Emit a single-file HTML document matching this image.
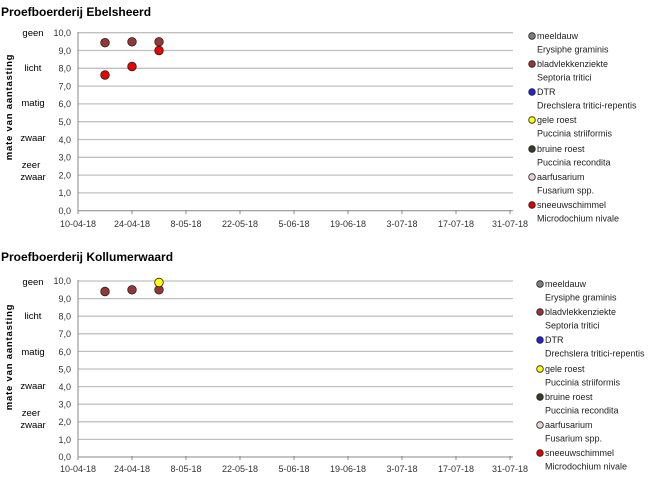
<!DOCTYPE html>
<html><head><meta charset="utf-8"><style>
body{margin:0;background:#fff}
svg{display:block;font-family:"Liberation Sans",Calibri,sans-serif}
.t{font-size:12px;font-weight:bold;fill:#000}
.ax{font-size:9px;fill:#333}
.cat{font-size:9.5px;fill:#000}
.lg{font-size:9px;fill:#222}
.g{stroke:#c0c0c0;stroke-width:1.3}
</style></head><body>
<svg width="650" height="477" viewBox="0 0 650 477">
<!-- Chart 1 -->
<text class="t" x="1" y="16">Proefboerderij Ebelsheerd</text>
<g class="g">
<line x1="78" x2="513" y1="32.7" y2="32.7"/><line x1="78" x2="513" y1="50.5" y2="50.5"/><line x1="78" x2="513" y1="68.3" y2="68.3"/><line x1="78" x2="513" y1="86.1" y2="86.1"/><line x1="78" x2="513" y1="103.9" y2="103.9"/><line x1="78" x2="513" y1="121.7" y2="121.7"/><line x1="78" x2="513" y1="139.5" y2="139.5"/><line x1="78" x2="513" y1="157.3" y2="157.3"/><line x1="78" x2="513" y1="175.1" y2="175.1"/><line x1="78" x2="513" y1="192.9" y2="192.9"/>
</g>
<line x1="78" y1="32" x2="78" y2="211" stroke="#888"/>
<line x1="78" y1="210.7" x2="513" y2="210.7" stroke="#888"/>
<g stroke="#888"><line x1="78" x2="78" y1="210" y2="214"/><line x1="132" x2="132" y1="210" y2="214"/><line x1="186" x2="186" y1="210" y2="214"/><line x1="240" x2="240" y1="210" y2="214"/><line x1="294" x2="294" y1="210" y2="214"/><line x1="348" x2="348" y1="210" y2="214"/><line x1="402" x2="402" y1="210" y2="214"/><line x1="456" x2="456" y1="210" y2="214"/><line x1="510" x2="510" y1="210" y2="214"/></g>
<g class="ax" text-anchor="end">
<text x="71" y="36">10,0</text><text x="71" y="54">9,0</text><text x="71" y="71.5">8,0</text><text x="71" y="89.5">7,0</text><text x="71" y="107">6,0</text><text x="71" y="125">5,0</text><text x="71" y="143">4,0</text><text x="71" y="160.5">3,0</text><text x="71" y="178.5">2,0</text><text x="71" y="196">1,0</text><text x="71" y="214">0,0</text>
</g>
<g class="ax" text-anchor="middle">
<text x="78" y="227">10-04-18</text><text x="132" y="227">24-04-18</text><text x="186" y="227">8-05-18</text><text x="240" y="227">22-05-18</text><text x="294" y="227">5-06-18</text><text x="348" y="227">19-06-18</text><text x="402" y="227">3-07-18</text><text x="456" y="227">17-07-18</text><text x="510" y="227">31-07-18</text>
</g>
<g class="cat" text-anchor="middle">
<text x="33" y="36">geen</text><text x="33" y="71">licht</text><text x="33" y="106">matig</text><text x="33" y="141">zwaar</text><text x="31" y="168">zeer</text><text x="33" y="180">zwaar</text>
</g>
<text class="cat" font-weight="bold" font-size="8.5" letter-spacing="0.8" transform="translate(12,107) rotate(-90)" text-anchor="middle">mate van aantasting</text>
<g stroke="#222" stroke-width="0.8">
<circle cx="105" cy="42.7" r="4.3" fill="#953735"/><circle cx="132" cy="41.8" r="4.3" fill="#953735"/><circle cx="159" cy="41.8" r="4.3" fill="#953735"/>
<circle cx="105" cy="75" r="4.3" fill="#ee0000"/><circle cx="132" cy="66.5" r="4.3" fill="#ee0000"/><circle cx="159" cy="50.5" r="4.3" fill="#ee0000"/>
</g>
<g stroke="#222" stroke-width="0.8">
<circle cx="532" cy="36" r="3.3" fill="#7f7f7f"/><circle cx="532" cy="64" r="3.3" fill="#953735"/><circle cx="532" cy="92" r="3.3" fill="#2222dd"/><circle cx="532" cy="120" r="3.3" fill="#ffff00"/><circle cx="532" cy="149" r="3.3" fill="#3c3c2c"/><circle cx="532" cy="177" r="3.3" fill="#f2d0d0"/><circle cx="532" cy="205" r="3.3" fill="#dd0000"/>
</g>
<g class="lg">
<text x="537" y="39">meeldauw</text><text x="537" y="52.5">Erysiphe graminis</text>
<text x="537" y="67">bladvlekkenziekte</text><text x="537" y="80.5">Septoria tritici</text>
<text x="537" y="95">DTR</text><text x="537" y="108.5">Drechslera tritici-repentis</text>
<text x="537" y="123">gele roest</text><text x="537" y="136.5">Puccinia striiformis</text>
<text x="537" y="152">bruine roest</text><text x="537" y="165.5">Puccinia recondita</text>
<text x="537" y="180">aarfusarium</text><text x="537" y="193.5">Fusarium spp.</text>
<text x="537" y="208">sneeuwschimmel</text><text x="537" y="221.5">Microdochium nivale</text>
</g>

<!-- Chart 2 -->
<text class="t" x="1" y="261">Proefboerderij Kollumerwaard</text>
<g class="g">
<line x1="78" x2="513" y1="281" y2="281"/><line x1="78" x2="513" y1="298.6" y2="298.6"/><line x1="78" x2="513" y1="316.2" y2="316.2"/><line x1="78" x2="513" y1="333.8" y2="333.8"/><line x1="78" x2="513" y1="351.4" y2="351.4"/><line x1="78" x2="513" y1="369" y2="369"/><line x1="78" x2="513" y1="386.6" y2="386.6"/><line x1="78" x2="513" y1="404.2" y2="404.2"/><line x1="78" x2="513" y1="421.8" y2="421.8"/><line x1="78" x2="513" y1="439.4" y2="439.4"/>
</g>
<line x1="78" y1="280" x2="78" y2="457" stroke="#888"/>
<line x1="78" y1="457" x2="513" y2="457" stroke="#888"/>
<g stroke="#888"><line x1="78" x2="78" y1="456" y2="460"/><line x1="132" x2="132" y1="456" y2="460"/><line x1="186" x2="186" y1="456" y2="460"/><line x1="240" x2="240" y1="456" y2="460"/><line x1="294" x2="294" y1="456" y2="460"/><line x1="348" x2="348" y1="456" y2="460"/><line x1="402" x2="402" y1="456" y2="460"/><line x1="456" x2="456" y1="456" y2="460"/><line x1="510" x2="510" y1="456" y2="460"/></g>
<g class="ax" text-anchor="end">
<text x="71" y="284">10,0</text><text x="71" y="302">9,0</text><text x="71" y="319.5">8,0</text><text x="71" y="337">7,0</text><text x="71" y="355">6,0</text><text x="71" y="372.5">5,0</text><text x="71" y="390">4,0</text><text x="71" y="407.5">3,0</text><text x="71" y="425">2,0</text><text x="71" y="443">1,0</text><text x="71" y="460">0,0</text>
</g>
<g class="ax" text-anchor="middle">
<text x="78" y="472">10-04-18</text><text x="132" y="472">24-04-18</text><text x="186" y="472">8-05-18</text><text x="240" y="472">22-05-18</text><text x="294" y="472">5-06-18</text><text x="348" y="472">19-06-18</text><text x="402" y="472">3-07-18</text><text x="456" y="472">17-07-18</text><text x="510" y="472">31-07-18</text>
</g>
<g class="cat" text-anchor="middle">
<text x="33" y="285">geen</text><text x="33" y="319">licht</text><text x="33" y="355">matig</text><text x="33" y="389">zwaar</text><text x="31" y="416">zeer</text><text x="33" y="428">zwaar</text>
</g>
<text class="cat" font-weight="bold" font-size="8.5" letter-spacing="0.8" transform="translate(12,357) rotate(-90)" text-anchor="middle">mate van aantasting</text>
<g stroke="#222" stroke-width="0.8">
<circle cx="105" cy="291.5" r="4.3" fill="#953735"/><circle cx="132" cy="289.8" r="4.3" fill="#953735"/><circle cx="159" cy="289.8" r="4.3" fill="#953735"/>
<circle cx="159" cy="282.5" r="4.3" fill="#ffff00"/>
</g>
<g stroke="#222" stroke-width="0.8">
<circle cx="540" cy="284" r="3.3" fill="#7f7f7f"/><circle cx="540" cy="312" r="3.3" fill="#953735"/><circle cx="540" cy="340" r="3.3" fill="#2222dd"/><circle cx="540" cy="369" r="3.3" fill="#ffff00"/><circle cx="540" cy="397" r="3.3" fill="#3c3c2c"/><circle cx="540" cy="425" r="3.3" fill="#f2d0d0"/><circle cx="540" cy="453" r="3.3" fill="#dd0000"/>
</g>
<g class="lg">
<text x="545" y="287">meeldauw</text><text x="545" y="300.5">Erysiphe graminis</text>
<text x="545" y="315">bladvlekkenziekte</text><text x="545" y="328.5">Septoria tritici</text>
<text x="545" y="343">DTR</text><text x="545" y="356.5">Drechslera tritici-repentis</text>
<text x="545" y="372">gele roest</text><text x="545" y="385.5">Puccinia striiformis</text>
<text x="545" y="400">bruine roest</text><text x="545" y="413.5">Puccinia recondita</text>
<text x="545" y="428">aarfusarium</text><text x="545" y="441.5">Fusarium spp.</text>
<text x="545" y="456">sneeuwschimmel</text><text x="545" y="469.5">Microdochium nivale</text>
</g>
</svg>
</body></html>
